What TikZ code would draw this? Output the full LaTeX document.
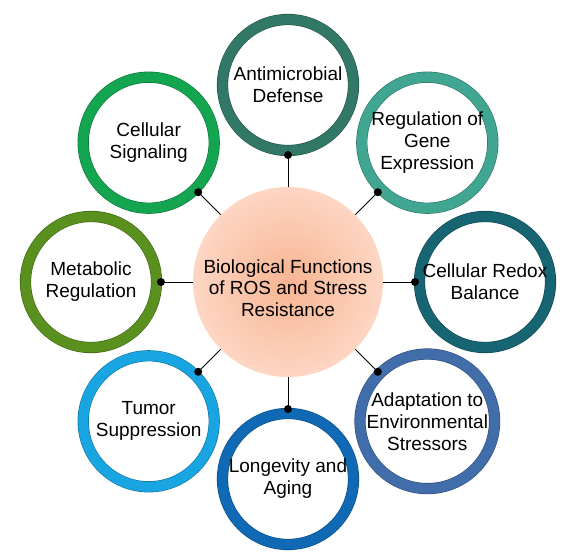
\documentclass[tikz,border=0pt]{standalone}
\usepackage{fontspec}
\setmainfont{Liberation Sans}
\usetikzlibrary{calc}
\definecolor{defensegreen}{RGB}{50,120,103}
\definecolor{geneteal}{RGB}{64,166,145}
\definecolor{redoxteal}{RGB}{23,100,115}
\definecolor{stressblue}{RGB}{65,110,170}
\definecolor{agingblue}{RGB}{15,105,180}
\definecolor{tumorblue}{RGB}{25,165,225}
\definecolor{metabgreen}{RGB}{90,145,30}
\definecolor{signalgreen}{RGB}{20,165,80}
\definecolor{peachcore}{RGB}{248,180,145}
\definecolor{peachrim}{RGB}{253,214,196}

\begin{document}
\begin{tikzpicture}[x=1pt,y=1pt,
    ring/.style={circle, draw=#1!70!black, line width=0.6pt, double=#1,
        double distance=10pt, fill=white, minimum size=131pt, inner sep=0pt,
        align=center, font=\fontsize{19}{22}\selectfont},
    hub/.style={circle, shading=radial, inner color=peachcore, outer color=peachrim,
        minimum size=190pt, inner sep=0pt,
        font=\fontsize{19}{21.5}\selectfont},
    link/.style={draw=black, line width=0.8pt},
    dot/.style={circle, fill=black, inner sep=0pt, minimum size=8pt}]
    \useasboundingbox (0,0) rectangle (575,558);

    % centre
    \node[hub] (hub) at (288,276) {\raisebox{-6pt}[\height][\depth]{\parbox[c]{180pt}{\centering
        Biological Functions\\of ROS and Stress\\Resistance}}};

    % outer rings
    \node[ring=defensegreen] (defense) at ($(hub)+(90:197)$) {Antimicrobial\\Defense};
    \node[ring=geneteal] (gene) at ($(hub)+(45:197)$) {Regulation of\\Gene\\Expression};
    \node[ring=redoxteal] (redox) at ($(hub)+(0:197)$) {Cellular Redox\\Balance};
    \node[ring=stressblue] (stress) at ($(hub)+(-45:197)$) {Adaptation to\\Environmental\\Stressors};
    \node[ring=agingblue] (aging) at ($(hub)+(-90:197)$) {Longevity and\\Aging};
    \node[ring=tumorblue] (tumor) at ($(hub)+(-135:197)$) {Tumor\\Suppression};
    \node[ring=metabgreen] (metab) at ($(hub)+(180:197)$) {Metabolic\\Regulation};
    \node[ring=signalgreen] (signal) at ($(hub)+(135:197)$) {Cellular\\Signaling};

    % connectors
    \foreach \n in {defense,gene,redox,stress,aging,tumor,metab,signal}{
        \node[dot] (\n-dot) at ($(\n.center)!70pt!(hub.center)$) {};
        \draw[link] (hub) -- (\n-dot.center);
    }
\end{tikzpicture}
\end{document}
